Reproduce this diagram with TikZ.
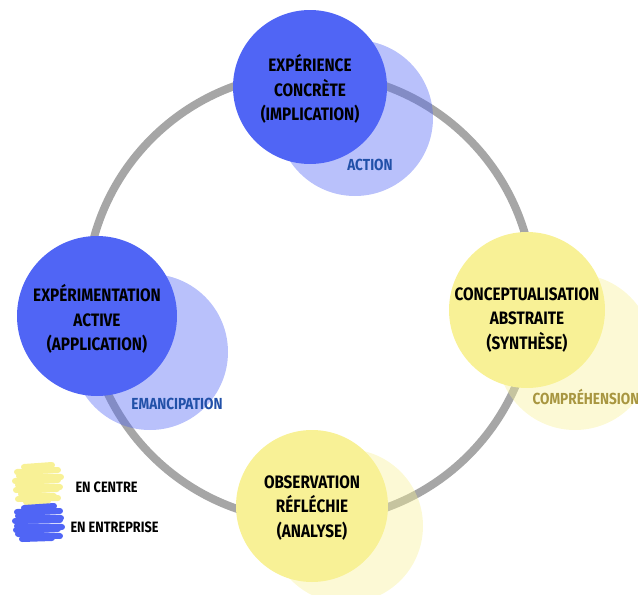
\documentclass[tikz,border=0pt]{standalone}
\usepackage{fontspec}
\setmainfont{Fira Sans}[FakeStretch=0.85]
\definecolor{dblue}{RGB}{80,101,245}
\definecolor{dyellow}{RGB}{248,241,150}
\definecolor{ringgray}{RGB}{166,166,166}
\definecolor{lblblue}{RGB}{33,80,168}
\definecolor{lblgold}{RGB}{168,150,64}
\tikzset{
  ringstyle/.style={circle, draw=ringgray, line width=8pt, minimum size=448pt, inner sep=0pt},
  bigc/.style={circle, fill=#1, inner sep=0pt},
  shadowc/.style={circle, fill=#1, fill opacity=0.4, inner sep=0pt},
  maintext/.style={align=center, font=\fontsize{18}{24.5}\selectfont\bfseries, text=black},
  sublabel/.style={font=\fontsize{16}{18}\selectfont\bfseries},
  legendtext/.style={font=\fontsize{15}{17}\selectfont\bfseries, anchor=west},
  scrib/.style={line width=6pt, line cap=round, draw=#1},
}
\begin{document}
\begin{tikzpicture}[x=1pt,y=-1pt]
\useasboundingbox (0,0) rectangle (638,595);
\begin{scope}
\clip (0,0) rectangle (638,595);
% ring
\node[ringstyle] (ring) at (310,297) {};
% light circles
\node[shadowc=dblue, minimum size=156pt] (topL) at (355,118) {};
\node[shadowc=dblue, minimum size=156pt] (leftL) at (150,352) {};
\node[shadowc=dyellow, minimum size=156pt] (rightL) at (575,352) {};
\node[shadowc=dyellow, minimum size=154pt] (botL) at (346,526) {};
% main circles
\node[bigc=dblue, minimum size=154pt] (top) at (310,87) {};
\node[bigc=dblue, minimum size=160pt] (left) at (97,316) {};
\node[bigc=dyellow, minimum size=156pt] (right) at (527,310) {};
\node[bigc=dyellow, minimum size=152pt] (bot) at (312,506) {};
\end{scope}
% texts
\node[maintext] (topT) at ([yshift=-2pt]top) {EXPÉRIENCE\\CONCRÈTE\\(IMPLICATION)};
\node[maintext] (leftT) at ([yshift=-3pt]left) {EXPÉRIMENTATION\\ACTIVE\\(APPLICATION)};
\node[maintext] (rightT) at ([yshift=-10pt]right) {CONCEPTUALISATION\\ABSTRAITE\\(SYNTHÈSE)};
\node[maintext] (botT) at ([yshift=-2pt]bot) {OBSERVATION\\RÉFLÉCHIE\\(ANALYSE)};
\node[sublabel, text=lblblue] (act) at (370,165) {ACTION};
\node[sublabel, text=lblblue] (eman) at (177,404) {EMANCIPATION};
\node[sublabel, text=lblgold] (comp) at (586,397) {COMPRÉHENSION};
% legend scribbles
\begin{scope}
\foreach \ya/\yb/\xa/\xb in {467/465/24/52, 472/470/17/58, 476/477/19/61, 481/480/15/58, 485/487/18/60, 490/489/16/57, 494/496/21/54, 499/498/18/58, 502/501/26/48}
  \draw[scrib=dyellow] (\xa,\ya) -- (\xb,\yb);
\foreach \ya/\yb/\xa/\xb in {508/506/24/54, 512/511/17/60, 516/518/18/61, 521/520/15/60, 526/527/17/62, 530/529/16/58, 534/536/18/60, 539/538/22/52}
  \draw[scrib=dblue] (\xa,\ya) -- (\xb,\yb);
\end{scope}
\node[legendtext] (lg1) at (72,487) {EN CENTRE};
\node[legendtext] (lg2) at (67,527) {EN ENTREPRISE};
\end{tikzpicture}
\end{document}
